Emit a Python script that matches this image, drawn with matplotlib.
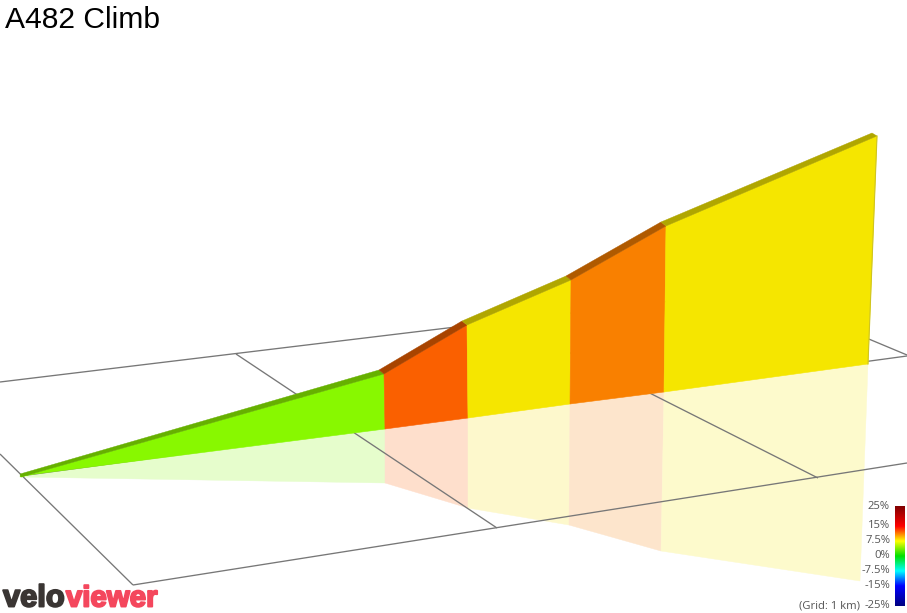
import matplotlib
matplotlib.use("Agg")
import matplotlib.pyplot as plt
import matplotlib.patheffects as pe
import numpy as np
from matplotlib.colors import LinearSegmentedColormap

W, H = 907, 613

# Projected profile of the climb (screen position of each segment boundary)
wall_x = [21, 384, 467, 571, 666, 877]
crest_y = [477, 374, 325, 280, 226, 136]
base_x = [20, 385, 468, 570, 664, 868]
base_y = [476, 429, 418, 404, 392, 364]
ridge_x = [20, 379, 462, 566, 661, 872]
ridge_y = [474, 370, 321, 276, 222, 133]
mirror_x = [20, 385, 468, 569, 661, 860]
mirror_y = [477, 483, 508, 525, 551, 581]

seg_colors = ["#88F800", "#FA6000", "#F5E600", "#F98000", "#F5E600"]
ridge_colors = ["#66B000", "#A84400", "#B0A600", "#B05A00", "#B0A600"]
mirror_colors = ["#E6FDCC", "#FEDFCC", "#FDF8CC", "#FDE5CC", "#FDFACC"]

# Ground grid lines (projected end points)
grid_lines = [
    ((0, 382), (754, 291)),
    ((0, 454), (133, 585)),
    ((133, 585), (907, 463)),
    ((236, 354), (497, 528)),
    ((507, 321), (818, 478)),
    ((754, 291), (907, 355)),
    ((20, 476), (907, 356)),
]

# Colour scale
scale_labels = ["25%", "15%", "7.5%", "0%", "-7.5%", "-15%", "-25%"]
scale_label_y = [506, 525, 540, 555, 570, 585, 605]
scale_stops = [0.0, 0.05, 0.2, 0.35, 0.5, 0.65, 0.8, 0.95, 1.0]
scale_colors = ["#00007F", "#0000A0", "#0000FF", "#00FFFF", "#00E000",
                "#FFFF00", "#FF0000", "#A00000", "#7F0000"]

title = "A482 Climb"
grid_note = "(Grid: 1 km)"

plt.rcParams["font.family"] = ["Liberation Sans", "DejaVu Sans"]
fig = plt.figure(figsize=(W / 100, H / 100), dpi=100)
ax = fig.add_axes([0, 0, 1, 1])
ax.set_xlim(0, W)
ax.set_ylim(H, 0)
ax.axis("off")

for i in range(len(seg_colors)):
    ax.fill([base_x[i], base_x[i + 1], mirror_x[i + 1], mirror_x[i]],
            [base_y[i], base_y[i + 1], mirror_y[i + 1], mirror_y[i]],
            color=mirror_colors[i], lw=0.3, zorder=1)

for a, b in grid_lines:
    ax.plot([a[0], b[0]], [a[1], b[1]], color="#777777", lw=0.95,
            solid_capstyle="butt", zorder=2)

for i in range(len(seg_colors)):
    ax.fill([wall_x[i], wall_x[i + 1], base_x[i + 1], base_x[i]],
            [crest_y[i], crest_y[i + 1], base_y[i + 1], base_y[i]],
            color=seg_colors[i], lw=0.4, zorder=3)
    ax.fill([ridge_x[i], ridge_x[i + 1], wall_x[i + 1], wall_x[i]],
            [ridge_y[i], ridge_y[i + 1], crest_y[i + 1], crest_y[i]],
            color=ridge_colors[i], lw=0.3, zorder=4)

ax.plot([wall_x[-1], base_x[-1]], [crest_y[-1], base_y[-1]],
        color="#CFC420", lw=0.8, zorder=4)

ax.text(5, 28.5, title, fontsize=21.6, color="#000000", ha="left",
        va="baseline", zorder=6)

cmap = LinearSegmentedColormap.from_list("grade", list(zip(scale_stops, scale_colors)))
grad = np.linspace(1, 0, 256).reshape(-1, 1)
ax.imshow(grad, cmap=cmap, extent=(895, 905, 606, 506), aspect="auto",
          vmin=0, vmax=1, zorder=5)
ax.set_xlim(0, W)
ax.set_ylim(H, 0)

small = ["Open Sans", "DejaVu Sans"]
for lab, y in zip(scale_labels, scale_label_y):
    ax.text(890, y + 0.5, lab, fontsize=8.1, color="#555555", ha="right",
            va="center", family=small, zorder=6)
ax.text(860, 605.5, grid_note, fontsize=8.1, color="#555555", ha="right",
        va="center", family=small, zorder=6)

ax.text(3, 606.5, "velo", fontsize=22.2, fontweight="bold", color="#3A3533",
        ha="left", va="baseline", zorder=6,
        path_effects=[pe.withStroke(linewidth=1.4, foreground="#3A3533")])
ax.text(157.5, 606.5, "viewer", fontsize=21.2, fontweight="bold", color="#F4475D",
        ha="right", va="baseline", zorder=6,
        path_effects=[pe.withStroke(linewidth=1.4, foreground="#F4475D")])

fig.savefig("out.png", dpi=100, facecolor="white")
